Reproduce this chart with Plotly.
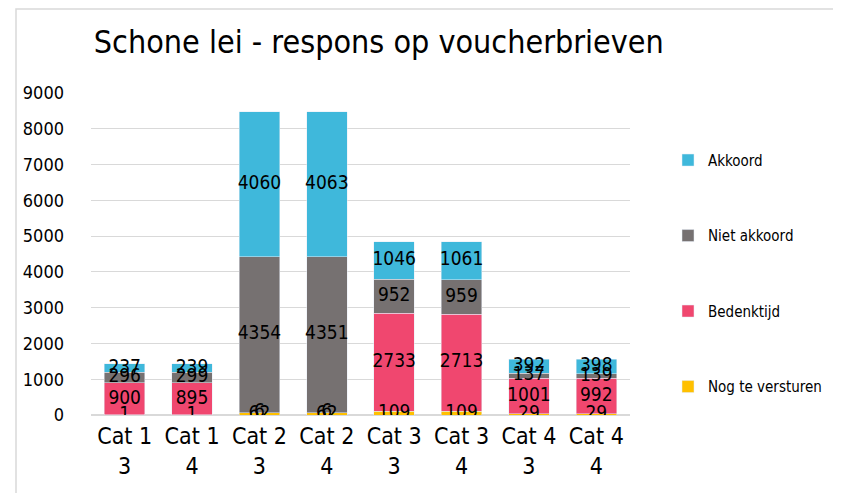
import plotly.graph_objects as go
import numpy as np

categories = ["Cat 1<br>3", "Cat 1<br>4", "Cat 2<br>3", "Cat 2<br>4",
              "Cat 3<br>3", "Cat 3<br>4", "Cat 4<br>3", "Cat 4<br>4"]

nog_te_versturen = [1, 1, 62, 62, 109, 109, 29, 29]
bedenktijd = [900, 895, 6, 6, 2733, 2713, 1001, 992]
niet_akkoord = [296, 299, 4354, 4351, 952, 959, 137, 139]
akkoord = [237, 239, 4060, 4063, 1046, 1061, 392, 398]

series = [
    ("Nog te versturen", nog_te_versturen, "#FFC000", 4),
    ("Bedenktijd", bedenktijd, "#F0476F", 3),
    ("Niet akkoord", niet_akkoord, "#767171", 2),
    ("Akkoord", akkoord, "#3FB8DB", 1),
]

FONT = "DejaVu Sans Condensed"

fig = go.Figure()

base = np.zeros(len(categories))
labels_x, labels_y, labels_t = [], [], []
for name, vals, color, rank in series:
    vals = np.array(vals, dtype=float)
    fig.add_trace(go.Bar(
        x=categories, y=vals, name=name, marker_color=color,
        legendgroup=name, legendrank=rank, hoverinfo="y+name",
    ))
    labels_x += categories
    labels_y += list(base + vals / 2)
    labels_t += [str(int(v)) for v in vals]
    base = base + vals

# data labels centred in each segment
fig.add_trace(go.Scatter(
    x=labels_x, y=labels_y, text=labels_t, mode="text",
    textfont=dict(family=FONT, size=19, color="black"),
    showlegend=False, hoverinfo="skip",
))

# page has an 8px body margin, so keep the figure inside the window
fig.update_layout(
    width=825, height=485,
    barmode="stack", bargap=0.4,
    paper_bgcolor="white", plot_bgcolor="white",
    margin=dict(l=83, r=203, t=85, b=78),
    font=dict(family=FONT, size=18, color="black"),
    title=dict(text="Schone lei - respons op voucherbrieven",
               xref="paper", x=0.534, xanchor="center",
               y=1 - 34 / 485, yanchor="middle",
               font=dict(size=32, family=FONT)),
    legend=dict(xref="container", yref="container",
                x=0.80, y=0.72, xanchor="left", yanchor="top",
                traceorder="grouped", tracegroupgap=53, maxheight=1,
                font=dict(size=15, family=FONT), itemwidth=30),
    shapes=[dict(type="rect", xref="paper", yref="paper",
                 x0=(8 - 83) / 539, x1=1.5, y0=-0.5, y1=(407 - 1) / 322,
                 line=dict(color="#D9D9D9", width=1.5), layer="below")],
)
fig.update_xaxes(showline=False, ticks="", tickfont=dict(size=23),
                 ticklabelstandoff=5)
fig.update_yaxes(range=[0, 9000], dtick=1000, gridcolor="#D9D9D9",
                 zeroline=True, zerolinecolor="#D9D9D9", showline=False,
                 tickfont=dict(size=18), ticks="", ticklabelstandoff=26)

fig.write_html("out.html")
